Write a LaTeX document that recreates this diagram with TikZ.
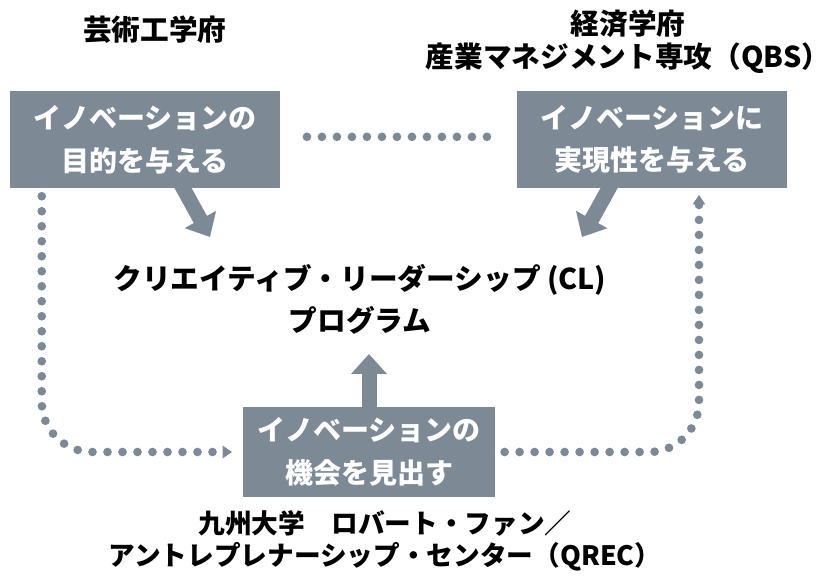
\documentclass[tikz,border=0pt]{standalone}
\usepackage{fontspec}
\setmainfont{Noto Sans CJK JP}
\usetikzlibrary{arrows.meta,backgrounds}
\definecolor{slate}{HTML}{7D8A96}
\tikzset{
  box/.style={fill=slate, text=white, font=\bfseries\fontsize{21pt}{32pt}\selectfont,
    align=center, inner sep=0pt, minimum width=202.5pt, minimum height=72.75pt},
  heading/.style={font=\bfseries\fontsize{21.5pt}{25pt}\selectfont, align=center, inner sep=0pt},
  fat/.style={slate, line width=11.25pt, -{Triangle[length=15pt,width=26pt]}},
  dots/.style={slate, line width=6.5pt, line cap=round, dash pattern=on 0pt off 11.25pt},
  dottip/.style={-{Triangle[length=7pt,width=9pt]}}
}
\begin{document}
\begin{tikzpicture}[x=0.75pt, y=-0.75pt]
    \useasboundingbox (0,0) rectangle (833,577);

    \node[heading] (geijutsu) at (155,30) {芸術工学府};
    \node[heading] (keizai) at (628,42) {経済学府\\産業マネジメント専攻（QBS）};

    \node[box] (purpose) at (145,139.5) {イノベーションの\\目的を与える};
    \node[box] (realize) at (652,139.5) {イノベーションに\\実現性を与える};
    \node[box, minimum width=189pt, minimum height=67.5pt] (chance) at (369,452) {イノベーションの\\機会を見出す};

    \node[heading, font=\bfseries\fontsize{21.5pt}{31.5pt}\selectfont] (cl) at (360,299) {クリエイティブ・リーダーシップ (CL)\\プログラム};
    \node[heading, font=\bfseries\fontsize{20pt}{24pt}\selectfont] (qrec) at (385,541) {九州大学　ロバート・ファン／\\アントレプレナーシップ・センター（QREC）};

    \coordinate (tipL) at (210,237);
    \coordinate (tipR) at (582,237);
    \coordinate (tipU) at (369,354);

    \begin{pgfonlayer}{background}
    \draw[fat] ([xshift=8.5pt]purpose.center) -- (tipL);
    \draw[fat] ([xshift=-12pt]realize.center) -- (tipR);
    \draw[fat] (chance.north) -- (tipU);
    \end{pgfonlayer}

    \draw[dots, shorten <=20pt, shorten >=17pt] ([yshift=2pt]purpose.east) -- ([yshift=2pt]realize.west);
    \draw[dots, dottip, shorten <=6pt, shorten >=8pt, rounded corners=37.5pt]
        ([xshift=24pt]purpose.south west) |- (chance.west);
    \draw[dots, dottip, shorten <=7pt, shorten >=5pt, rounded corners=37.5pt]
        (chance.east) -| ([xshift=35.25pt]realize.south);
\end{tikzpicture}
\end{document}
